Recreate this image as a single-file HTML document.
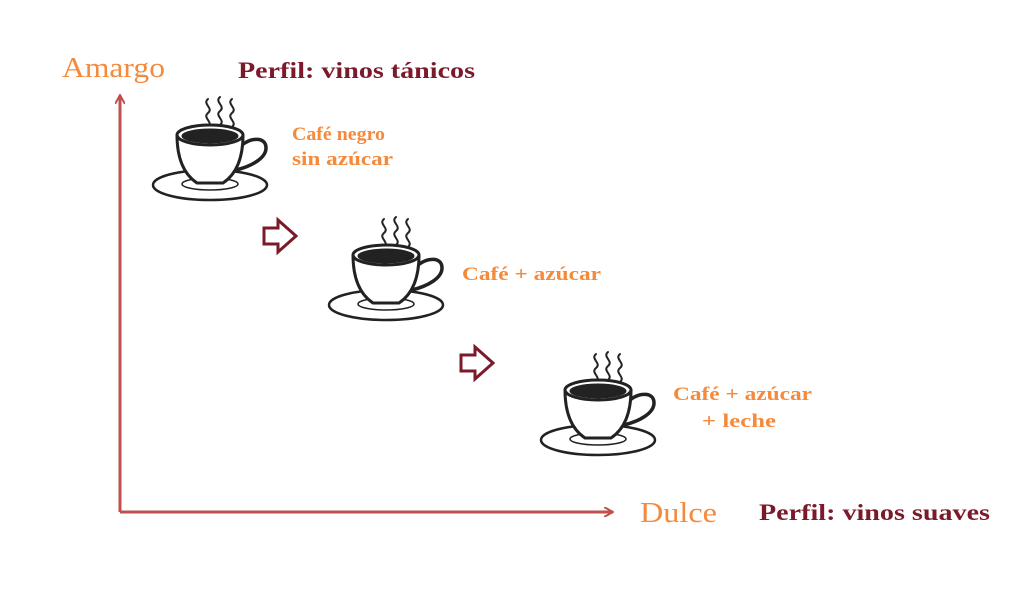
<!DOCTYPE html>
<html><head><meta charset="utf-8"><style>
body{margin:0;width:1024px;height:594px;background:#fff;overflow:hidden}
</style></head><body>
<svg width="1024" height="594" viewBox="0 0 1024 594" xmlns="http://www.w3.org/2000/svg">
<defs>
<g id="cup" fill="none" stroke="#222" stroke-linecap="round">
  <path d="M56 4 c-6 5 6 9 0 14 c-6 5 6 9 0 14 M68 2 c-6 5 6 9 0 14 c-6 5 6 9 0 14 M80 4 c-6 5 6 9 0 14 c-6 5 6 9 0 14" stroke-width="2"/>
  <ellipse cx="58" cy="90" rx="57" ry="15" stroke-width="2.5" fill="#fff"/>
  <ellipse cx="58" cy="89" rx="28" ry="6" stroke-width="1.5"/>
  <path d="M90 50 c10 -8 24 -8 24 3 c0 10 -14 18 -30 22" stroke-width="3.5"/>
  <path d="M25 40 c0 25 8 40 20 48 h26 c12 -8 20 -23 20 -48" stroke-width="3" fill="#fff"/>
  <ellipse cx="58" cy="40" rx="33" ry="10" stroke-width="3" fill="#fff"/>
  <ellipse cx="58" cy="41" rx="28" ry="7" fill="#222" stroke-width="1"/>
</g>
<marker id="ah" markerWidth="10" markerHeight="10" refX="8" refY="5" orient="auto" markerUnits="userSpaceOnUse">
  <path d="M0 0 L9 5 L0 10" fill="none" stroke="#c0504d" stroke-width="2"/>
</marker>
</defs>
<line x1="120" y1="512" x2="120" y2="96" stroke="#c0504d" stroke-width="3" marker-end="url(#ah)"/>
<line x1="120" y1="512" x2="612" y2="512" stroke="#c0504d" stroke-width="3" marker-end="url(#ah)"/>
<use href="#cup" x="152" y="95"/>
<use href="#cup" x="328" y="215"/>
<use href="#cup" x="540" y="350"/>
<path d="M264 228 h14 v-8 l18 16 l-18 16 v-8 h-14z" fill="#fff" stroke="#7b1a2a" stroke-width="3"/>
<path d="M461 355 h14 v-8 l18 16 l-18 16 v-8 h-14z" fill="#fff" stroke="#7b1a2a" stroke-width="3"/>
<g font-family="Liberation Serif, serif" font-weight="bold">
<text x="62" y="77" font-size="28" fill="#f58a3c" font-weight="normal" textLength="103" lengthAdjust="spacingAndGlyphs">Amargo</text>
<text x="238" y="78" font-size="23" fill="#7b1a2a" textLength="237" lengthAdjust="spacingAndGlyphs">Perfil: vinos tánicos</text>
<text x="292" y="140" font-size="19" fill="#f58a3c" textLength="93" lengthAdjust="spacingAndGlyphs">Café negro</text>
<text x="292" y="165" font-size="19" fill="#f58a3c" textLength="101" lengthAdjust="spacingAndGlyphs">sin azúcar</text>
<text x="462" y="280" font-size="19" fill="#f58a3c" textLength="139" lengthAdjust="spacingAndGlyphs">Café + azúcar</text>
<text x="673" y="400" font-size="19" fill="#f58a3c" textLength="139" lengthAdjust="spacingAndGlyphs">Café + azúcar</text>
<text x="702" y="427" font-size="19" fill="#f58a3c" textLength="74" lengthAdjust="spacingAndGlyphs">+ leche</text>
<text x="640" y="522" font-size="28" fill="#f58a3c" font-weight="normal" textLength="77" lengthAdjust="spacingAndGlyphs">Dulce</text>
<text x="759" y="520" font-size="23" fill="#7b1a2a" textLength="231" lengthAdjust="spacingAndGlyphs">Perfil: vinos suaves</text>
</g>
</svg>
</body></html>
